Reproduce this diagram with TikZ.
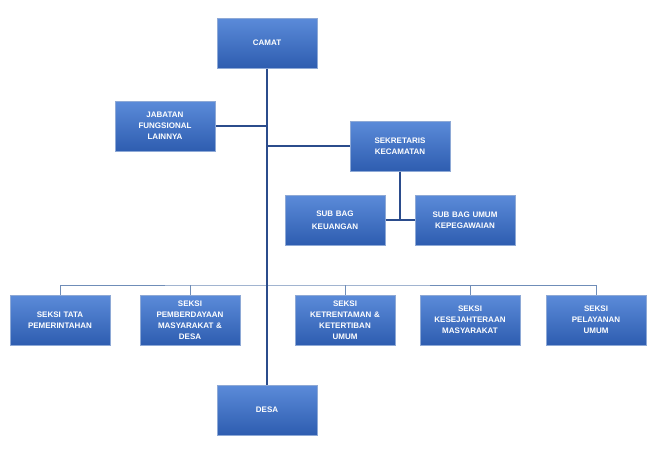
\documentclass[tikz,border=0pt]{standalone}
\usepackage{fontspec}
\setmainfont{Liberation Sans}
\usepackage{tikz}
\usetikzlibrary{positioning, calc}
\definecolor{boxTop}{HTML}{5B8BD9}
\definecolor{boxBottom}{HTML}{2E5DB0}
\definecolor{boxEdge}{HTML}{8EA9D6}
\definecolor{mainLine}{HTML}{2B4C8C}
\definecolor{busLine}{HTML}{6F8DB8}
\tikzstyle{unitNode}=[draw=boxEdge, line width=1pt, top color=boxTop, bottom color=boxBottom, minimum width=100pt, minimum height=50pt, inner sep=1pt, align=center, text width=96pt, font=\fontsize{8}{11}\selectfont\bfseries, text=white]
\tikzstyle{orgLine}=[mainLine, line width=1.2pt]
\tikzstyle{busConn}=[busLine, line width=1pt]

\begin{document}
\begin{tikzpicture}[x=1pt, y=-1pt]

    \useasboundingbox[fill=white] (0,0) rectangle (661,451);

    % nodes

    \node[unitNode] (camat) at (267,43) {CAMAT};
    \node[unitNode] (jabatan) at (165,126) {JABATAN\\FUNGSIONAL\\LAINNYA};
    \node[unitNode] (sekretaris) at (400,146) {SEKRETARIS\\KECAMATAN};
    \node[unitNode] (keuangan) at (335,220) {SUB BAG\\[2pt]KEUANGAN};
    \node[unitNode] (umum) at (465,220) {SUB BAG UMUM\\KEPEGAWAIAN};

    \node[unitNode] (tata) at (60,320) {SEKSI TATA\\PEMERINTAHAN};
    \node[unitNode] (pemberdayaan) at (190,320) {SEKSI\\PEMBERDAYAAN\\MASYARAKAT \&\\DESA};
    \node[unitNode] (trantib) at (345,320) {SEKSI\\KETRENTAMAN \&\\KETERTIBAN\\UMUM};
    \node[unitNode] (kesra) at (470,320) {SEKSI\\KESEJAHTERAAN\\MASYARAKAT};
    \node[unitNode] (pelayanan) at (596,320) {SEKSI\\PELAYANAN\\UMUM};

    \node[unitNode] (desa) at (267,410) {DESA};

    % connectors

    \coordinate (bus) at (267,285);
    \draw[busConn] (tata.north) |- (bus) -| (pelayanan.north);
    \draw[busConn] (pemberdayaan.north) -- (pemberdayaan.north |- bus);
    \draw[busConn] (trantib.north) -- (trantib.north |- bus);
    \draw[busConn] (kesra.north) -- (kesra.north |- bus);

    \draw[orgLine] (camat.south) -- (desa.north);
    \draw[orgLine] (jabatan.east) -- (jabatan.east -| camat);
    \draw[orgLine] (sekretaris.west) -- (sekretaris.west -| camat);
    \draw[orgLine] (sekretaris.south) -- (sekretaris.south |- keuangan.east);
    \draw[orgLine] (keuangan.east) -- (umum.west);

\end{tikzpicture}
\end{document}
